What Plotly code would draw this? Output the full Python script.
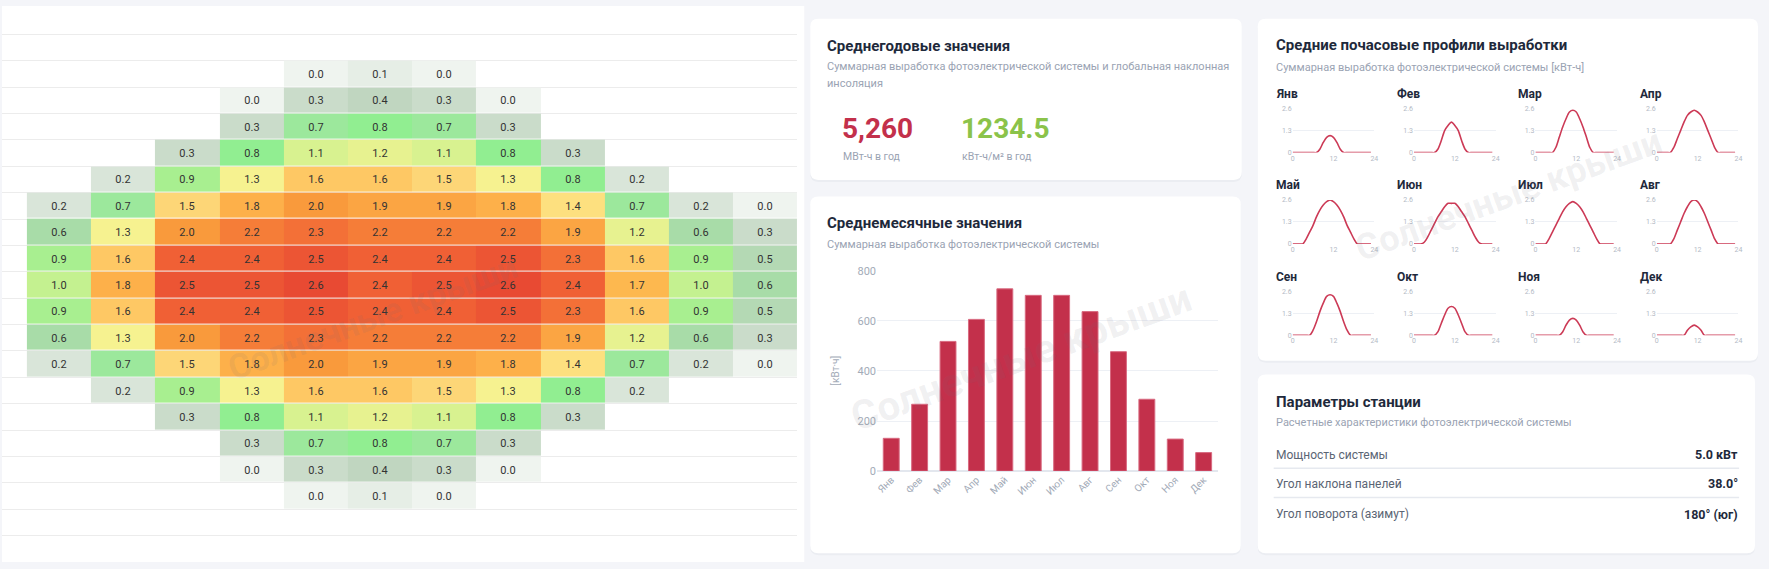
import plotly.graph_objects as go

W, H = 1769, 569

# ---------------- data ----------------
MONTHS = ["Янв", "Фев", "Мар", "Апр", "Май", "Июн", "Июл", "Авг", "Сен", "Окт", "Ноя", "Дек"]
HOURS = list(range(24))
_ = None

# average hourly output per month, kWh (hour 0..23)
jan = [_, _, _, _, _, _, _, _, 0.2, 0.6, 0.9, 1.0, 0.9, 0.6, 0.2, _, _, _, _, _, _, _, _, _]
feb = [_, _, _, _, _, _, _, 0.2, 0.7, 1.3, 1.6, 1.8, 1.6, 1.3, 0.7, 0.2, _, _, _, _, _, _, _, _]
mar = [_, _, _, _, _, _, 0.3, 0.9, 1.5, 2.0, 2.4, 2.5, 2.4, 2.0, 1.5, 0.9, 0.3, _, _, _, _, _, _, _]
apr = [_, _, _, _, 0.0, 0.3, 0.8, 1.3, 1.8, 2.2, 2.4, 2.5, 2.4, 2.2, 1.8, 1.3, 0.8, 0.3, 0.0, _, _, _, _, _]
may = [_, _, _, 0.0, 0.3, 0.7, 1.1, 1.6, 2.0, 2.3, 2.5, 2.6, 2.5, 2.3, 2.0, 1.6, 1.1, 0.7, 0.3, 0.0, _, _, _, _]
jun = [_, _, _, 0.1, 0.4, 0.8, 1.2, 1.6, 1.9, 2.2, 2.4, 2.4, 2.4, 2.2, 1.9, 1.6, 1.2, 0.8, 0.4, 0.1, _, _, _, _]
jul = [_, _, _, 0.0, 0.3, 0.7, 1.1, 1.5, 1.9, 2.2, 2.4, 2.5, 2.4, 2.2, 1.9, 1.5, 1.1, 0.7, 0.3, 0.0, _, _, _, _]
aug = [_, _, _, _, 0.0, 0.3, 0.8, 1.3, 1.8, 2.2, 2.5, 2.6, 2.5, 2.2, 1.8, 1.3, 0.8, 0.3, 0.0, _, _, _, _, _]
sep = [_, _, _, _, _, _, 0.3, 0.8, 1.4, 1.9, 2.3, 2.4, 2.3, 1.9, 1.4, 0.8, 0.3, _, _, _, _, _, _, _]
oct = [_, _, _, _, _, _, _, 0.2, 0.7, 1.2, 1.6, 1.7, 1.6, 1.2, 0.7, 0.2, _, _, _, _, _, _, _, _]
nov = [_, _, _, _, _, _, _, _, 0.2, 0.6, 0.9, 1.0, 0.9, 0.6, 0.2, _, _, _, _, _, _, _, _, _]
dec = [_, _, _, _, _, _, _, _, 0.0, 0.3, 0.5, 0.6, 0.5, 0.3, 0.0, _, _, _, _, _, _, _, _, _]
profiles = [jan, feb, mar, apr, may, jun, jul, aug, sep, oct, nov, dec]

# monthly totals, kWh
monthly_kwh = [131, 267, 518, 606, 728, 702, 702, 637, 477, 287, 128, 74]

annual_output = "5,260"
annual_irradiation = "1234.5"

param_names = ["Мощность системы", "Угол наклона панелей", "Угол поворота (азимут)"]
param_values = ["5.0 кВт", "38.0°", "180° (юг)"]

# ---------------- styling ----------------
FONT = "Roboto, Noto Sans, sans-serif"
DARK = "#1e293b"
MUTED = "#9aa3b3"
RED = "#c3304b"
GREEN = "#8bc34a"
BG = "#f4f5f9"


def px(x):
    return x / W


def py(y):
    return 1 - y / H


def rounded_rect(x0, y0, x1, y1, r=8):
    X0, X1, Y0, Y1 = px(x0), px(x1), py(y0), py(y1)
    rx, ry = r / W, r / H
    return (f"M {X0+rx},{Y0} L {X1-rx},{Y0} Q {X1},{Y0} {X1},{Y0-ry} "
            f"L {X1},{Y1+ry} Q {X1},{Y1} {X1-rx},{Y1} L {X0+rx},{Y1} "
            f"Q {X0},{Y1} {X0},{Y1+ry} L {X0},{Y0-ry} Q {X0},{Y0} {X0+rx},{Y0} Z")


fig = go.Figure()
annotations = []
shapes = []

# ---------------- heatmap (hours x months) ----------------
z = [[p[h] for p in profiles] for h in HOURS]
txt = [["" if v is None else "%.1f" % v for v in row] for row in z]
colorscale = [
    [0.0, "#eff4ef"], [0.04, "#e6eee6"], [0.077, "#d9e5d9"], [0.115, "#cadcca"],
    [0.154, "#c0d6c0"], [0.23, "#a8dca8"], [0.27, "#9ce89c"], [0.31, "#90ee90"],
    [0.346, "#a8ef90"], [0.385, "#c4f190"], [0.423, "#d8f290"], [0.46, "#e6f290"],
    [0.5, "#f6f290"], [0.538, "#fde07f"], [0.577, "#fdd677"], [0.615, "#fec864"],
    [0.654, "#fdb84f"], [0.692, "#fdb04a"], [0.77, "#f99a3c"], [0.846, "#f57d38"],
    [0.885, "#f37037"], [0.923, "#f06035"], [0.96, "#ec5534"], [1.0, "#e84a33"],
]
fig.add_trace(go.Heatmap(
    z=z, x=list(range(12)), y=HOURS, text=txt, texttemplate="%{text}",
    textfont=dict(size=11, color="#333333", family=FONT),
    colorscale=colorscale, zmin=0, zmax=2.6, showscale=False,
    ygap=1, hoverinfo="skip", xaxis="x", yaxis="y",
))
col_w = (798 - 25) / 12

# ---------------- monthly bars ----------------
fig.add_trace(go.Bar(
    x=MONTHS, y=monthly_kwh, marker=dict(color=RED, line=dict(color="#d86a80", width=1)),
    width=0.56, hoverinfo="skip", xaxis="x2", yaxis="y2",
))

layout_axes = dict(
    xaxis=dict(domain=[0, px(798)], range=[-0.5 - 25 / col_w, 11.5], visible=False, fixedrange=True),
    yaxis=dict(domain=[0, py(2)], range=[21.5, 0.5], tickvals=[h + 0.5 for h in range(1, 21)],
               showticklabels=False, ticks="", showgrid=True, gridcolor="#ececec", gridwidth=1,
               zeroline=False, showline=False),
    xaxis2=dict(domain=[px(878), px(1220)], anchor="y2", tickangle=-45, showgrid=False,
                tickfont=dict(size=10, color="#a3abb8", family=FONT), ticks="", showline=False),
    yaxis2=dict(domain=[py(476), py(271)], anchor="x2", range=[0, 800], tickvals=[0, 200, 400, 600, 800],
                gridcolor="#edf0f5", zeroline=True, zerolinecolor="#e3e7ee",
                tickfont=dict(size=11, color="#a3abb8", family=FONT), ticks="", ticklen=4),
)

# ---------------- hourly sparklines ----------------
for i, (name, prof) in enumerate(zip(MONTHS, profiles)):
    r, c = divmod(i, 4)
    k = i + 3
    x0 = 1295 + 121.8 * c
    y0 = 105 + 93.5 * r
    fig.add_trace(go.Scatter(
        x=HOURS, y=[0 if v is None else v for v in prof], mode="lines",
        line=dict(color="#cc3a56", width=1.6, shape="spline", smoothing=0.8),
        hoverinfo="skip", xaxis=f"x{k}", yaxis=f"y{k}",
    ))
    layout_axes[f"xaxis{k}"] = dict(
        domain=[px(x0), px(x0 + 82)], anchor=f"y{k}", range=[0, 24], tickvals=[0, 12, 24],
        showgrid=False, zeroline=False, ticks="", tickfont=dict(size=7, color="#b3bac5", family=FONT))
    layout_axes[f"yaxis{k}"] = dict(
        domain=[py(y0 + 45), py(y0)], anchor=f"x{k}", range=[0, 2.6], tickvals=[0, 1.3, 2.6],
        ticktext=["0", "1.3", "2.6"], gridcolor="#edf0f5", zeroline=False, ticks="",
        tickfont=dict(size=7, color="#b3bac5", family=FONT))
    annotations.append(dict(x=px(1276 + 121.8 * c), y=py(90 + 93.5 * r), text=f"<b>{name}</b>",
                            xanchor="left", yanchor="middle",
                            font=dict(size=12, color=DARK, family=FONT)))

# ---------------- backgrounds / cards ----------------
shapes.append(dict(type="rect", xref="paper", yref="paper", x0=0, x1=px(805), y0=0, y1=1,
                   fillcolor="white", line_width=0, layer="below"))
cards = [(811, 13, 1244, 178), (811, 195, 1243, 560), (1260, 13, 1762, 363), (1260, 377, 1759, 560)]
for (a, b, c2, d) in cards:
    shapes.append(dict(type="path", xref="paper", yref="paper", path=rounded_rect(a, b + 2, c2, d + 2),
                       fillcolor="rgba(30,40,70,0.04)", line_width=0, layer="below"))
    shapes.append(dict(type="path", xref="paper", yref="paper", path=rounded_rect(a, b, c2, d),
                       fillcolor="white", line_width=0, layer="below"))
for yy in [473, 503]:
    shapes.append(dict(type="line", xref="paper", yref="paper", x0=px(1276), x1=px(1743),
                       y0=py(yy), y1=py(yy), line=dict(color="#e6e9ef", width=1.5), layer="below"))


def label(x, y, text, size, color, anchor="left", bold=False, angle=0):
    annotations.append(dict(x=px(x), y=py(y), text=f"<b>{text}</b>" if bold else text,
                            xanchor=anchor, yanchor="middle", textangle=angle, showarrow=False,
                            font=dict(size=size, color=color, family=FONT)))


# card 1
label(826, 41, "Среднегодовые значения", 15, DARK, bold=True)
label(826, 62, "Суммарная выработка фотоэлектрической системы и глобальная наклонная", 11, MUTED)
label(826, 79, "инсоляция", 11, MUTED)
label(841, 125, annual_output, 28, RED, bold=True)
label(960, 125, annual_irradiation, 28, GREEN, bold=True)
label(842, 154, "МВт-ч в год", 10.5, MUTED)
label(961, 154, "кВт-ч/м² в год", 10.5, MUTED)
# card 2
label(826, 222, "Среднемесячные значения", 15, DARK, bold=True)
label(826, 244, "Суммарная выработка фотоэлектрической системы", 11, MUTED)
label(836, 373, "[кВт·ч]", 10, "#a3abb8", anchor="center", angle=-90)
# card 3
label(1276, 40, "Средние почасовые профили выработки", 15, DARK, bold=True)
label(1276, 63, "Суммарная выработка фотоэлектрической системы [кВт-ч]", 11, MUTED)
# card 4
label(1276, 405, "Параметры станции", 15, DARK, bold=True)
label(1276, 426, "Расчетные характеристики фотоэлектрической системы", 11, MUTED)
for j, (n, v) in enumerate(zip(param_names, param_values)):
    yy = [459, 489, 520][j]
    label(1276, yy, n, 12, "#5b6574")
    label(1744, yy, v, 12.5, DARK, anchor="right", bold=True)

# watermarks
for (wx, wy, ws) in [(372, 318, 34), (1023, 360, 40), (1512, 193, 36)]:
    label(wx, wy, "Солнечные крыши", ws, "rgba(110,110,120,0.10)", anchor="center", bold=True, angle=-20)

for a in annotations:
    a.setdefault("showarrow", False)
    a["xref"] = "paper"
    a["yref"] = "paper"

fig.update_layout(
    width=W, height=H, margin=dict(l=0, r=0, t=0, b=0),
    paper_bgcolor=BG, plot_bgcolor="rgba(0,0,0,0)", showlegend=False,
    font=dict(family=FONT), shapes=shapes, annotations=annotations, **layout_axes,
)

# the page body has a default 8px margin; drop it so the figure sits at 0,0
fig.write_html("out.html", config={"displayModeBar": False},
               post_script="document.body.style.margin='0';document.body.style.overflow='hidden';")
